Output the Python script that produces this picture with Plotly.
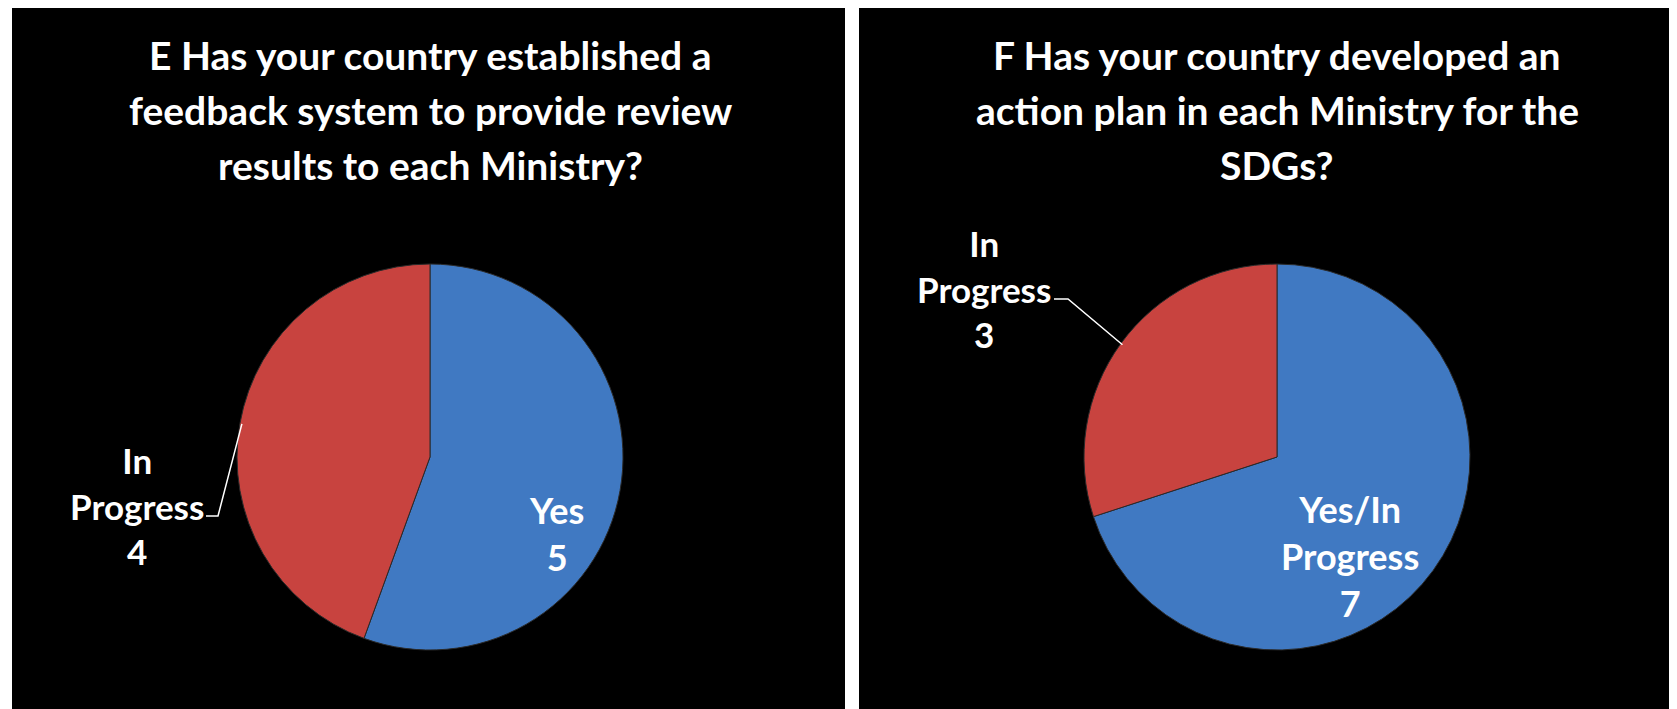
import math
import plotly.graph_objects as go

# ---- data ----
title_e = ["E Has your country established a",
           "feedback system to provide review",
           "results to each Ministry?"]
labels_e = ["Yes", "In Progress"]
values_e = [5, 4]

title_f = ["F Has your country developed an",
           "action plan in each Ministry for the",
           "SDGs?"]
labels_f = ["Yes/In Progress", "In Progress"]
values_f = [7, 3]

colors = ["#4079C2", "#C8433F"]

# ---- layout constants (screen pixels) ----
W, H = 1677, 709
OFF = 8          # default body margin of the html page
FONT = "Lato"
R = 193
pies = [
    dict(title=title_e, labels=labels_e, values=values_e, cx=430, cy=457,
         panel=(12, 845), inlab=(556, 533), lab=(137, 505),
         lab_end=(206, 516), elbow=218),
    dict(title=title_f, labels=labels_f, values=values_f, cx=1277, cy=457,
         panel=(859, 1677), inlab=(1350, 556), lab=(984, 288),
         lab_end=(1054, 299), elbow=1068),
]

FW, FH = W - OFF, H - OFF


def px(x):
    return (x - OFF) / FW


def py(y):
    return 1 - (y - OFF) / FH


fig = go.Figure()
shapes = []
annotations = []

for p in pies:
    # black panel
    shapes.append(dict(type="rect", xref="paper", yref="paper",
                       x0=px(p["panel"][0]), x1=px(p["panel"][1]),
                       y0=0, y1=py(7), fillcolor="black", line_width=0, layer="below"))
    texts = [lab.replace(" ", "<br>") + "<br>" + str(v) for lab, v in zip(p["labels"], p["values"])]
    fig.add_trace(go.Pie(
        labels=p["labels"], values=p["values"], sort=False,
        direction="clockwise", rotation=0,
        marker=dict(colors=colors, line=dict(color="#2a2a2a", width=1)),
        textinfo="none",
        domain=dict(x=[px(p["cx"] - R), px(p["cx"] + R)],
                    y=[py(p["cy"] + R), py(p["cy"] - R)]),
        hoverinfo="label+value", showlegend=False,
    ))
    # title lines
    for i, line in enumerate(p["title"]):
        annotations.append(dict(text=line, xref="paper", yref="paper",
                                x=px(p["cx"]), y=py(55 + 55 * i),
                                xanchor="center", yanchor="middle", showarrow=False,
                                font=dict(family=FONT, size=39, color="white", weight="bold")))
    # label inside first slice
    annotations.append(dict(text=texts[0], xref="paper", yref="paper",
                            x=px(p["inlab"][0]), y=py(p["inlab"][1]),
                            xanchor="center", yanchor="middle", showarrow=False,
                            font=dict(family=FONT, size=36, color="white", weight="bold")))
    # outside label for second slice
    annotations.append(dict(text=texts[1], xref="paper", yref="paper",
                            x=px(p["lab"][0]), y=py(p["lab"][1]),
                            xanchor="center", yanchor="middle", showarrow=False,
                            font=dict(family=FONT, size=35, color="white", weight="bold")))
    # leader line to the middle of the second slice's edge
    total = sum(p["values"])
    mid = (p["values"][0] + p["values"][1] / 2) / total * 2 * math.pi
    tx = p["cx"] + (R - 2) * math.sin(mid)
    ty = p["cy"] - (R - 2) * math.cos(mid)
    ex, ey = p["lab_end"]
    shapes.append(dict(type="path", xref="paper", yref="paper",
                       path=f"M {px(ex)} {py(ey)} L {px(p['elbow'])} {py(ey)} L {px(tx)} {py(ty)}",
                       line=dict(color="white", width=1.5)))

fig.update_layout(
    width=FW, height=FH, margin=dict(l=0, r=0, t=0, b=0),
    paper_bgcolor="white", plot_bgcolor="white",
    shapes=shapes, annotations=annotations,
)

fig.write_html("out.html")
